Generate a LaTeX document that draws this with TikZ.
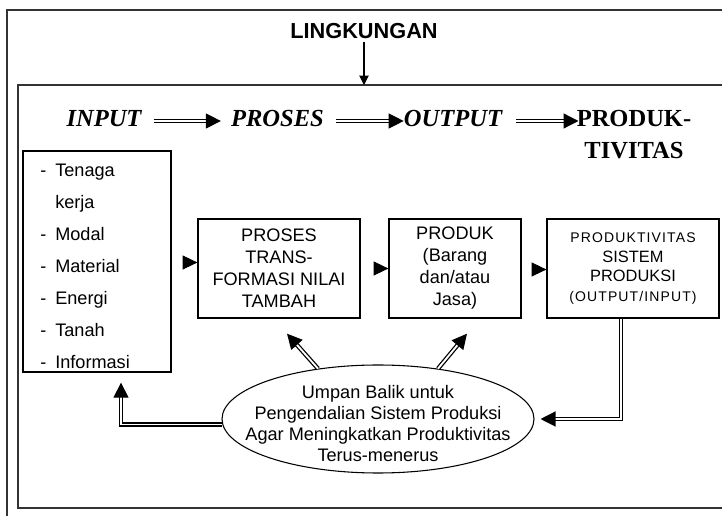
\documentclass[tikz,border=0pt]{standalone}
\usepackage{fontspec}
\setmainfont{Liberation Sans}
\newfontfamily\tmsfont{Liberation Serif}
\newfontfamily\spfont[LetterSpace=8]{Liberation Sans}
\usetikzlibrary{arrows.meta,shapes.geometric,calc}
\newcommand\dsh{\makebox[11.25pt][l]{-}}
\newcommand\nodsh{\hspace*{11.25pt}}
\tikzset{
  frame/.style={draw=black!80, line width=1.1pt},
  box/.style={draw, line width=1pt, align=center, inner sep=0pt,
    font=\fontsize{13.6}{16.5}\selectfont},
  item/.style={anchor=base west, inner sep=0pt, font=\fontsize{13.6}{16}\selectfont},
  head/.style={anchor=base, inner sep=0pt, font=\fontsize{18.4}{23.7}\selectfont\tmsfont\bfseries\itshape},
  dblarrow/.style={double, double distance=1.4pt, line width=0.95pt,
    -{Triangle[length=11.25pt,width=11.25pt]}},
  tri/.style={line width=0.5pt, -{Triangle[length=11pt,width=10.5pt]}},
}
\begin{document}
\begin{tikzpicture}[x=0.75pt,y=-0.75pt]
\useasboundingbox (0,0) rectangle (722,516);
% frames
\draw[frame] (7,520) -- (7,10) -- (730,10);
\draw[frame] (730,85) -- (18,85) -- (18,508) -- (730,508);
% environment
\node[inner sep=0pt, font=\fontsize{16.3}{18}\selectfont\bfseries] (lingk) at (364,31) {LINGKUNGAN};
\coordinate (topin) at (364,85);
\draw[line width=0.8pt, -{Triangle[length=7pt,width=7pt]}] ($(lingk.south)+(0,3)$) -- (topin);
% headings
\node[head] (hin) at (104,126.7) {INPUT};
\node[head] (hpro) at (277.5,126.7) {PROSES};
\node[head] (hout) at (453,126.7) {OUTPUT};
\node[inner sep=0pt, align=center, font=\fontsize{18.4}{23.7}\selectfont\tmsfont\bfseries] (hprod) at (634,134.4) {PRODUK-\\TIVITAS};
\draw[dblarrow] ($(hin.base east)+(12,-5.7)$) -- ($(hin.base east -| hpro.base west)+(-10,-5.7)$);
\draw[dblarrow] ($(hpro.base east)+(12,-5.7)$) -- ($(hpro.base east -| hout.base west)+(0,-5.7)$);
\draw[dblarrow] ($(hout.base east)+(14,-5.7)$) -- ($(hout.base east -| hprod.west)+(2,-5.7)$);
% input box
\node[box, minimum width=148*0.75pt, minimum height=221*0.75pt] (inp) at (97,261.5) {};
\node[item] (i1) at (40,176.4) {\dsh Tenaga};
\node[item] (i2) at (40,208.4) {\nodsh kerja};
\node[item] (i3) at (40,240.4) {\dsh Modal};
\node[item] (i4) at (40,272.4) {\dsh Material};
\node[item] (i5) at (40,304.4) {\dsh Energi};
\node[item] (i6) at (40,336.4) {\dsh Tanah};
\node[item] (i7) at (40,368.4) {\dsh Informasi};
% process boxes
\node[box, minimum width=162*0.75pt, minimum height=99*0.75pt] (pro) at (279,268.5)
  {PROSES\\TRANS-\\FORMASI NILAI\\TAMBAH};
\node[box, minimum width=132*0.75pt, minimum height=99*0.75pt] (prd) at (455,268.5)
  {PRODUK\\(Barang\\dan/atau\\Jasa)};
\node[box, minimum width=172*0.75pt, minimum height=99*0.75pt,
  font=\fontsize{12.3}{14.8}\selectfont] (pk) at (633,268.5)
  {{\spfont\fontsize{10.5}{12}\selectfont PRODUKTIVITAS}\\SISTEM\\PRODUKSI\\{\spfont\fontsize{10.5}{12}\selectfont (OUTPUT/INPUT)}};
\draw[tri] ($(inp.east)+(12,1)$) -- ($(inp.east -| pro.west)+(0,1)$);
\draw[tri] ($(pro.east)+(13,0)$) -- (prd.west);
\draw[tri] ($(prd.east)+(11,1)$) -- ($(prd.east -| pk.west)+(0,1)$);
% feedback ellipse
\node[ellipse, draw, line width=0.8pt, minimum width=312*0.75pt, minimum height=108*0.75pt, inner sep=0pt] (ell) at (378,419) {};
\node[align=center, inner sep=0pt, font=\fontsize{13.6}{15.75}\selectfont] (elltxt) at (378,423.5)
  {Umpan Balik untuk\\Pengendalian Sistem Produksi\\Agar Meningkatkan Produktivitas\\Terus-menerus};
\draw[dblarrow, shorten >=7.5pt] (ell.182) -| ($(inp.south)+(24,0)$);
\draw[dblarrow] (ell.140) -- ($(pro.south)+(8,15)$);
\draw[dblarrow] (ell.40) -- ($(prd.south)+(12,15)$);
\draw[dblarrow, shorten >=4.5pt] ($(pk.south)+(-12,0)$) |- (ell.east);
\end{tikzpicture}
\end{document}
